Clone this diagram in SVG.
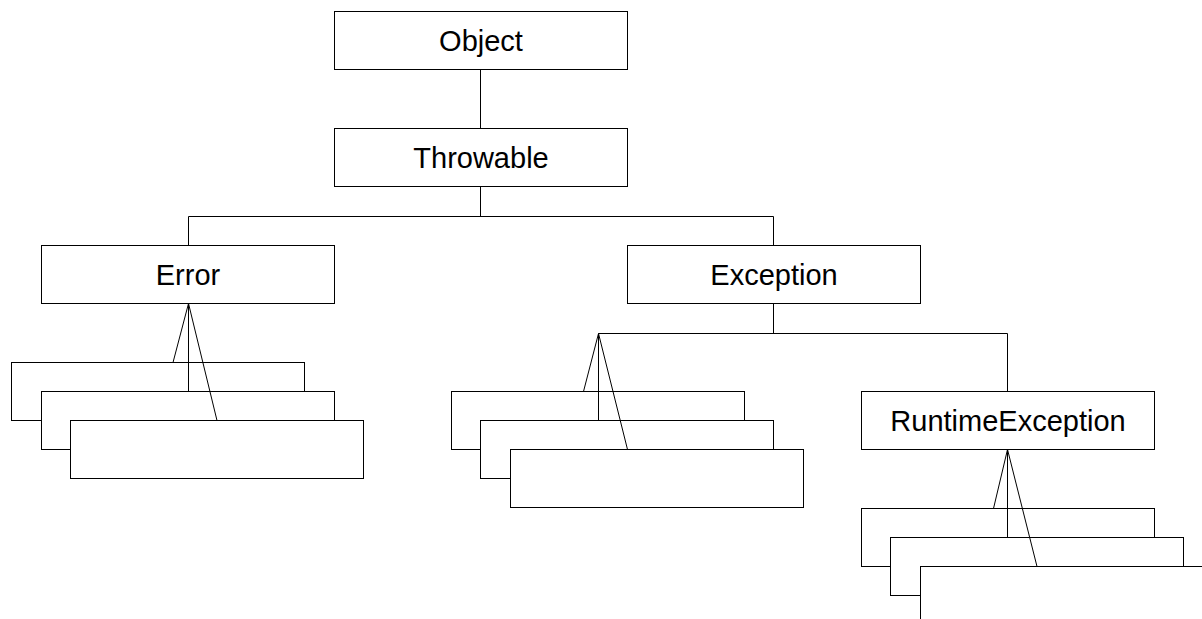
<svg xmlns="http://www.w3.org/2000/svg" width="1202" height="619" viewBox="0 0 1202 619">
<style>
.box{fill:#fff;stroke:#000;stroke-width:1}
.lbl{font-family:"Liberation Sans",Arial,sans-serif;font-size:29px;fill:#000;text-anchor:middle}
.conn line,.conn polyline{stroke:#000;stroke-width:1;fill:none}
</style>
<rect width="1202" height="619" fill="#fff"/>
<g id="object"><rect class="box" x="334.5" y="11.5" width="293" height="58"/><text class="lbl" x="481" y="51">Object</text></g>
<g id="throwable"><rect class="box" x="334.5" y="128.5" width="293" height="58"/><text class="lbl" x="481" y="168">Throwable</text></g>
<g id="error"><rect class="box" x="41.5" y="245.5" width="293" height="58"/><text class="lbl" x="188" y="285">Error</text></g>
<g id="exception"><rect class="box" x="627.5" y="245.5" width="293" height="58"/><text class="lbl" x="774" y="285">Exception</text></g>
<g id="runtimeexception"><rect class="box" x="861.5" y="391.5" width="293" height="58"/><text class="lbl" x="1008" y="431">RuntimeException</text></g>
<g id="error-subclasses">
<rect class="box" x="11.5" y="362.5" width="293" height="58"/>
<rect class="box" x="41.5" y="391.5" width="293" height="58"/>
<rect class="box" x="70.5" y="420.5" width="293" height="58"/>
</g>
<g id="exception-subclasses">
<rect class="box" x="451.5" y="391.5" width="293" height="58"/>
<rect class="box" x="480.5" y="420.5" width="293" height="58"/>
<rect class="box" x="510.5" y="449.5" width="293" height="58"/>
</g>
<g id="runtime-subclasses">
<rect class="box" x="861.5" y="508.5" width="293" height="58"/>
<rect class="box" x="890.5" y="537.5" width="293" height="58"/>
<rect class="box" x="920.5" y="566.5" width="293" height="58"/>
</g>
<g class="conn" id="connectors">
<line x1="480.5" y1="69.5" x2="480.5" y2="128.5"/>
<polyline points="480.5,186.5 480.5,216.5"/>
<polyline points="188.5,245.5 188.5,216.5 773.5,216.5 773.5,245.5"/>
<polyline points="773.5,303.5 773.5,333.5"/>
<polyline points="598.5,333.5 1007.5,333.5 1007.5,391.5"/>
<line x1="188.5" y1="303.5" x2="173" y2="362.5"/>
<line x1="188.5" y1="303.5" x2="188.5" y2="391.5"/>
<line x1="188.5" y1="303.5" x2="217" y2="420.5"/>
<line x1="598.5" y1="333.5" x2="583.5" y2="391.5"/>
<line x1="598.5" y1="333.5" x2="598.5" y2="420.5"/>
<line x1="598.5" y1="333.5" x2="627.5" y2="449.5"/>
<line x1="1007.5" y1="449.5" x2="993.5" y2="508.5"/>
<line x1="1007.5" y1="449.5" x2="1007.5" y2="537.5"/>
<line x1="1007.5" y1="449.5" x2="1037" y2="566.5"/>
</g>
</svg>
